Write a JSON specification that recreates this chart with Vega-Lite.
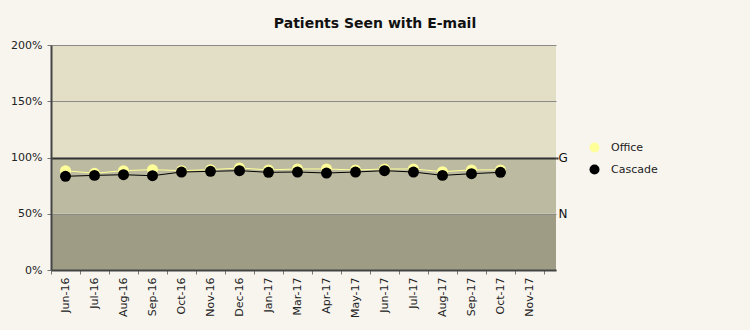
{
  "$schema": "https://vega.github.io/schema/vega-lite/v6.json",
  "width": 505,
  "height": 225,
  "autosize": "none",
  "padding": {"left": 51, "top": 45, "right": 194, "bottom": 60},
  "background": "#f8f5ef",
  "title": {
    "text": "Patients Seen with E-mail",
    "anchor": "middle",
    "frame": "group",
    "dx": 71.5,
    "dy": 21,
    "offset": 18,
    "baseline": "alphabetic",
    "font": "DejaVu Sans",
    "fontSize": 14,
    "fontWeight": "bold",
    "color": "#111111"
  },
  "config": {
    "view": {"stroke": null},
    "axis": {"labelFont": "DejaVu Sans", "labelFontSize": 11, "labelColor": "#222222"},
    "legend": {"labelFont": "DejaVu Sans", "labelFontSize": 11, "labelColor": "#222222"}
  },
  "datasets": {
    "bands": [
      {"lo": 0, "hi": 50, "zone": "below"},
      {"lo": 50, "hi": 100, "zone": "near"},
      {"lo": 100, "hi": 200, "zone": "above"}
    ],
    "obs": [
      {"month": "Jun-16", "series": "Office", "value": 88.3},
      {"month": "Jul-16", "series": "Office", "value": 86.0},
      {"month": "Aug-16", "series": "Office", "value": 88.3},
      {"month": "Sep-16", "series": "Office", "value": 89.2},
      {"month": "Oct-16", "series": "Office", "value": 88.3},
      {"month": "Nov-16", "series": "Office", "value": 89.2},
      {"month": "Dec-16", "series": "Office", "value": 90.7},
      {"month": "Jan-17", "series": "Office", "value": 89.0},
      {"month": "Mar-17", "series": "Office", "value": 89.8},
      {"month": "Apr-17", "series": "Office", "value": 89.8},
      {"month": "May-17", "series": "Office", "value": 88.9},
      {"month": "Jun-17", "series": "Office", "value": 89.8},
      {"month": "Jul-17", "series": "Office", "value": 89.8},
      {"month": "Aug-17", "series": "Office", "value": 87.4},
      {"month": "Sep-17", "series": "Office", "value": 89.0},
      {"month": "Oct-17", "series": "Office", "value": 89.0},
      {"month": "Jun-16", "series": "Cascade", "value": 83.3},
      {"month": "Jul-16", "series": "Cascade", "value": 84.1},
      {"month": "Aug-16", "series": "Cascade", "value": 84.7},
      {"month": "Sep-16", "series": "Cascade", "value": 83.8},
      {"month": "Oct-16", "series": "Cascade", "value": 87.1},
      {"month": "Nov-16", "series": "Cascade", "value": 87.7},
      {"month": "Dec-16", "series": "Cascade", "value": 88.3},
      {"month": "Jan-17", "series": "Cascade", "value": 86.8},
      {"month": "Mar-17", "series": "Cascade", "value": 87.1},
      {"month": "Apr-17", "series": "Cascade", "value": 86.2},
      {"month": "May-17", "series": "Cascade", "value": 87.1},
      {"month": "Jun-17", "series": "Cascade", "value": 88.3},
      {"month": "Jul-17", "series": "Cascade", "value": 87.1},
      {"month": "Aug-17", "series": "Cascade", "value": 84.1},
      {"month": "Sep-17", "series": "Cascade", "value": 85.6},
      {"month": "Oct-17", "series": "Cascade", "value": 86.8}
    ]
  },
  "resolve": {"axis": {"y": "independent"}},
  "layer": [
    {
      "data": {"name": "bands"},
      "mark": {"type": "rect"},
      "encoding": {
        "y": {
          "field": "lo", "type": "quantitative",
          "scale": {"domain": [0, 200], "nice": false},
          "axis": {
            "title": null,
            "orient": "left",
            "values": [0, 50, 100, 150, 200],
            "labelExpr": "datum.value + '%'",
            "zindex": 1,
            "domain": true, "domainColor": "#444444", "domainWidth": 2,
            "ticks": true, "tickColor": "#777777", "tickSize": 4,
            "labelPadding": 5,
            "grid": true,
            "gridColor": {"condition": {"test": "datum.value === 100", "value": "#333333"}, "value": "#8a8a86"},
            "gridWidth": {"condition": {"test": "datum.value === 100", "value": 2}, "value": 1}
          }
        },
        "y2": {"field": "hi"},
        "fill": {
          "field": "zone", "type": "nominal",
          "scale": {"domain": ["below", "near", "above"], "range": ["#9e9c85", "#bcbaa0", "#e3dfc6"]},
          "legend": null
        }
      }
    },
    {
      "data": {"name": "obs"},
      "mark": {"type": "line", "strokeWidth": 1},
      "encoding": {
        "x": {
          "field": "month", "type": "ordinal",
          "sort": ["Jun-16","Jul-16","Aug-16","Sep-16","Oct-16","Nov-16","Dec-16","Jan-17","Mar-17","Apr-17","May-17","Jun-17","Jul-17","Aug-17","Sep-17","Oct-17","Nov-17"],
          "scale": {
            "domain": ["Jun-16","Jul-16","Aug-16","Sep-16","Oct-16","Nov-16","Dec-16","Jan-17","Mar-17","Apr-17","May-17","Jun-17","Jul-17","Aug-17","Sep-17","Oct-17","Nov-17"],
            "paddingInner": 0, "paddingOuter": 0.207, "align": 0
          },
          "axis": {
            "title": null,
            "labelAngle": -90,
            "labelAlign": "right",
            "labelBaseline": "middle",
            "labelPadding": 3,
            "tickBand": "extent",
            "tickColor": "#777777",
            "tickSize": 4,
            "domainColor": "#444444",
            "domainWidth": 2,
            "grid": false,
            "zindex": 1
          }
        },
        "y": {
          "field": "value", "type": "quantitative",
          "axis": {
            "title": null,
            "orient": "right",
            "values": [50, 100],
            "labelExpr": "datum.value === 100 ? 'G' : 'N'",
            "domain": false,
            "grid": false,
            "ticks": true,
            "tickSize": 2,
            "tickColor": "#333333",
            "tickWidth": 2,
            "tickOpacity": {"condition": {"test": "datum.value === 100", "value": 1}, "value": 0},
            "labelPadding": 0,
            "labelColor": "#111111",
            "labelFontSize": 12
          }
        },
        "color": {
          "field": "series", "type": "nominal",
          "scale": {"domain": ["Office", "Cascade"], "range": ["#ffff99", "#000000"]}
        }
      }
    },
    {
      "data": {"name": "obs"},
      "mark": {"type": "point", "filled": true, "shape": "circle", "size": 120, "opacity": 1},
      "encoding": {
        "x": {"field": "month", "type": "ordinal"},
        "y": {"field": "value", "type": "quantitative", "axis": null},
        "color": {
          "field": "series", "type": "nominal",
          "scale": {"domain": ["Office", "Cascade"], "range": ["#ffff99", "#000000"]},
          "legend": {
            "title": null,
            "orient": "none",
            "legendX": 538,
            "legendY": 97,
            "direction": "vertical",
            "symbolType": "circle",
            "symbolSize": 100,
            "symbolStrokeWidth": 0,
            "rowPadding": 10,
            "labelOffset": 11,
            "padding": 0
          }
        }
      }
    }
  ]
}
